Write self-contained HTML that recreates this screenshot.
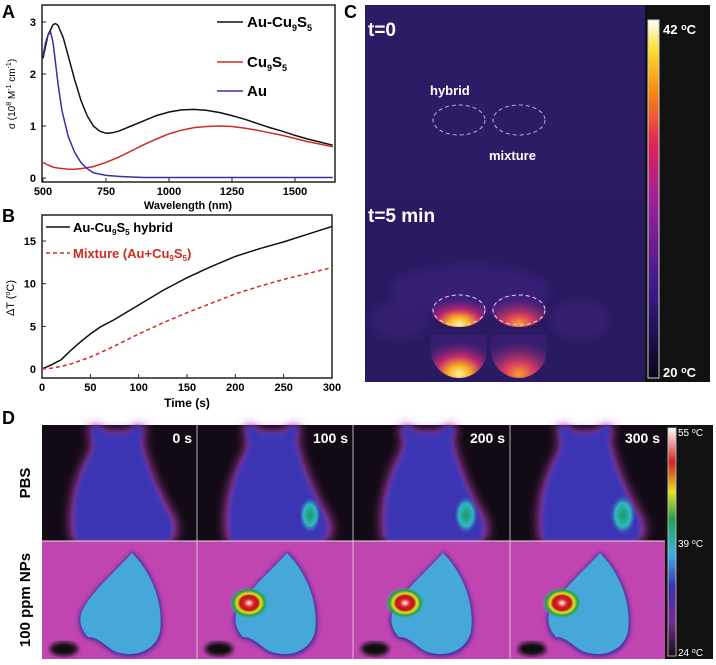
<!DOCTYPE html>
<html><head><meta charset="utf-8"><style>
html,body{margin:0;padding:0;background:#fff;}
svg{display:block;font-family:"Liberation Sans",Arial,sans-serif;}
</style></head><body>
<svg id="fig" width="716" height="665" viewBox="0 0 716 665">
<defs>
  <linearGradient id="cbar1" x1="0" y1="1" x2="0" y2="0">
    <stop offset="0" stop-color="#0a0418"/><stop offset="0.25" stop-color="#3a1a8a"/>
    <stop offset="0.5" stop-color="#a0209a"/><stop offset="0.65" stop-color="#e0205a"/>
    <stop offset="0.8" stop-color="#f88a10"/><stop offset="0.92" stop-color="#fde030"/><stop offset="1" stop-color="#ffffff"/>
  </linearGradient>
  <linearGradient id="cbar2" x1="0" y1="1" x2="0" y2="0">
    <stop offset="0" stop-color="#101010"/><stop offset="0.15" stop-color="#7a2a90"/>
    <stop offset="0.3" stop-color="#3a30b0"/><stop offset="0.45" stop-color="#40b0e0"/>
    <stop offset="0.6" stop-color="#20a050"/><stop offset="0.72" stop-color="#e8e020"/>
    <stop offset="0.85" stop-color="#d02020"/><stop offset="1" stop-color="#ffffff"/>
  </linearGradient>
  <radialGradient id="well" cx="0.5" cy="0.9" r="0.75">
    <stop offset="0" stop-color="#fff4a0"/><stop offset="0.25" stop-color="#fbb020"/>
    <stop offset="0.55" stop-color="#c02870"/><stop offset="1" stop-color="#4a2088" stop-opacity="0.4"/>
  </radialGradient>
  <radialGradient id="well2" cx="0.5" cy="0.9" r="0.75">
    <stop offset="0" stop-color="#f8a030"/><stop offset="0.35" stop-color="#d83a60"/>
    <stop offset="1" stop-color="#4a2088" stop-opacity="0.4"/>
  </radialGradient>
  <radialGradient id="hot" cx="0.5" cy="0.5" r="0.5">
    <stop offset="0" stop-color="#ffffff"/><stop offset="0.25" stop-color="#e02020"/>
    <stop offset="0.45" stop-color="#b01818"/><stop offset="0.6" stop-color="#f0e020"/>
    <stop offset="0.78" stop-color="#20a040"/><stop offset="1" stop-color="#40b0d8" stop-opacity="0"/>
  </radialGradient>
  <radialGradient id="green" cx="0.5" cy="0.5" r="0.5">
    <stop offset="0" stop-color="#1a9a6a"/><stop offset="0.6" stop-color="#30b8c0"/><stop offset="1" stop-color="#3a50c0" stop-opacity="0"/>
  </radialGradient>
  <filter id="blur2"><feGaussianBlur stdDeviation="2"/></filter>
  <filter id="blur4"><feGaussianBlur stdDeviation="5"/></filter>
  <clipPath id="clipA"><rect x="42" y="5" width="293" height="177"/></clipPath>
  <clipPath id="clipB"><rect x="42" y="215" width="290" height="163"/></clipPath>
</defs>
<g id="chartA">
  <text transform="translate(15,94) rotate(-90)" text-anchor="middle" font-size="10">σ (10<tspan font-size="7" dy="-4">8</tspan><tspan dy="4"> M</tspan><tspan font-size="7" dy="-4">-1</tspan><tspan dy="4"> cm</tspan><tspan font-size="7" dy="-4">-1</tspan><tspan dy="4">)</tspan></text>
  <g><line x1="217" x2="243" y1="22" y2="22" stroke="#111" stroke-width="1.5"/><text x="247" y="27" font-size="15" font-weight="bold">Au-Cu<tspan font-size="9" dy="4">9</tspan><tspan dy="-4">S</tspan><tspan font-size="9" dy="4">5</tspan></text></g>
  <g><line x1="217" x2="243" y1="62" y2="62" stroke="#d02a20" stroke-width="1.5"/><text x="247" y="67" font-size="15" font-weight="bold">Cu<tspan font-size="9" dy="4">9</tspan><tspan dy="-4">S</tspan><tspan font-size="9" dy="4">5</tspan></text></g>
  <g><line x1="217" x2="243" y1="91" y2="91" stroke="#3a30a0" stroke-width="1.5"/><text x="247" y="96" font-size="15" font-weight="bold">Au</text></g>
</g>
<g id="chartB">
  <text transform="translate(14,298) rotate(-90)" text-anchor="middle" font-size="11">ΔT (<tspan font-size="7" dy="-4">o</tspan><tspan dy="4">C)</tspan></text>
  <g><line x1="46" x2="70" y1="227" y2="227" stroke="#111" stroke-width="1.5"/><text x="73" y="232" font-size="13" font-weight="bold">Au-Cu<tspan font-size="8" dy="3">9</tspan><tspan dy="-3">S</tspan><tspan font-size="8" dy="3">5</tspan><tspan dy="-3"> hybrid</tspan></text></g>
  <g><line x1="46" x2="70" y1="253" y2="253" stroke="#d02a20" stroke-width="1.5" stroke-dasharray="4,3"/><text x="73" y="258" font-size="13" font-weight="bold" fill="#d02a20">Mixture (Au+Cu<tspan font-size="8" dy="3">9</tspan><tspan dy="-3">S</tspan><tspan font-size="8" dy="3">5</tspan><tspan dy="-3">)</tspan></text></g>
</g>
<g id="panelC">
  <rect x="365" y="5" width="282" height="196" fill="#2c1c66"/>
  <rect x="365" y="201" width="282" height="181" fill="#2a1a62"/>
  <ellipse cx="470" cy="290" rx="80" ry="25" fill="#3e2480" opacity="0.6" filter="url(#blur4)"/>
  <ellipse cx="400" cy="320" rx="30" ry="20" fill="#3a2278" opacity="0.6" filter="url(#blur4)"/>
  <ellipse cx="580" cy="320" rx="30" ry="20" fill="#3a2278" opacity="0.6" filter="url(#blur4)"/>
  <path d="M431,350 A28,28 0 0 0 487,350 L487,335 L431,335 Z" fill="url(#well)"/>
  <path d="M491,350 A28,28 0 0 0 547,350 L547,335 L491,335 Z" fill="url(#well2)"/>
  <ellipse cx="459" cy="310" rx="27" ry="17" fill="url(#well)"/>
  <ellipse cx="519" cy="310" rx="27" ry="17" fill="url(#well2)"/>
  <ellipse cx="459" cy="310" rx="26" ry="15" fill="none" stroke="#e0d8f0" stroke-dasharray="4,3"/>
  <ellipse cx="519" cy="310" rx="26" ry="15" fill="none" stroke="#e0d8f0" stroke-dasharray="4,3"/>
  <ellipse cx="459" cy="120" rx="26" ry="15" fill="none" stroke="#b8b0e0" stroke-dasharray="4,3"/>
  <ellipse cx="519" cy="120" rx="26" ry="15" fill="none" stroke="#b8b0e0" stroke-dasharray="4,3"/>
  <text x="368" y="36" font-size="19" font-weight="bold" fill="#fff">t=0</text>
  <text x="430" y="95" font-size="13" font-weight="bold" fill="#fff">hybrid</text>
  <text x="489" y="160" font-size="13" font-weight="bold" fill="#fff">mixture</text>
  <text x="368" y="222" font-size="19" font-weight="bold" fill="#fff">t=5 min</text>
  <rect x="645" y="5" width="65" height="377" fill="#111"/>
  <rect x="648" y="20" width="11" height="358" fill="url(#cbar1)" stroke="#ccc"/>
  <text x="663" y="34" font-size="13" font-weight="bold" fill="#fff">42 <tspan font-size="9" dy="-4">o</tspan><tspan dy="4">C</tspan></text>
  <text x="663" y="377" font-size="13" font-weight="bold" fill="#fff">20 <tspan font-size="9" dy="-4">o</tspan><tspan dy="4">C</tspan></text>
</g>
<text x="344" y="18" font-size="18" font-weight="bold">C</text>
<text x="2" y="18" font-size="18" font-weight="bold">A</text>
<text x="2" y="222" font-size="18" font-weight="bold">B</text>
<text x="2" y="424" font-size="18" font-weight="bold">D</text>
<g id="panelD">
  <rect x="665" y="425" width="48" height="234" fill="#111"/>
  <rect x="668" y="428" width="8" height="228" fill="url(#cbar2)" stroke="#ccc" stroke-width="0.8"/>
  <text x="678" y="436" font-size="10" fill="#fff">55 <tspan font-size="7" dy="-3">o</tspan><tspan dy="3">C</tspan></text>
  <text x="678" y="547" font-size="10" fill="#fff">39 <tspan font-size="7" dy="-3">o</tspan><tspan dy="3">C</tspan></text>
  <text x="678" y="656" font-size="10" fill="#fff">24 <tspan font-size="7" dy="-3">o</tspan><tspan dy="3">C</tspan></text>
  <text transform="translate(30,483) rotate(-90)" text-anchor="middle" font-size="15" font-weight="bold">PBS</text>
  <text transform="translate(30,600) rotate(-90)" text-anchor="middle" font-size="15" font-weight="bold">100 ppm NPs</text>
</g>
<script>
const NS='http://www.w3.org/2000/svg';
function el(tag,attrs,parent){const e=document.createElementNS(NS,tag);for(const k in attrs)e.setAttribute(k,attrs[k]);parent.appendChild(e);return e;}
// ---- Panel A data
const waveA=[500,520,540,550,560,580,600,625,650,675,700,725,750,775,800,850,900,950,1000,1050,1100,1150,1200,1250,1300,1350,1400,1450,1500,1550,1600,1650];
const hybridA=[2.3,2.75,2.95,2.97,2.93,2.7,2.35,1.9,1.5,1.2,1.0,0.9,0.86,0.87,0.9,1.0,1.1,1.2,1.27,1.31,1.32,1.3,1.26,1.2,1.13,1.05,0.97,0.9,0.82,0.75,0.69,0.63];
const cuA=[0.3,0.25,0.21,0.2,0.19,0.18,0.17,0.17,0.18,0.2,0.22,0.26,0.3,0.35,0.4,0.52,0.64,0.75,0.85,0.92,0.97,0.99,1.0,0.99,0.96,0.92,0.87,0.82,0.76,0.7,0.65,0.6];
const waveAu=[500,510,520,530,540,550,560,575,600,625,650,675,700,750,800,850,900,1000,1200,1400,1650];
const auA=[2.35,2.6,2.75,2.8,2.6,2.2,1.8,1.3,0.8,0.5,0.3,0.18,0.1,0.05,0.03,0.02,0.01,0.01,0.01,0.01,0.01];
const xTicksA=[500,750,1000,1250,1500];
const yTicksA=[0,1,2,3];
// ---- Panel B data
const timeB=[0,10,20,30,40,50,60,75,100,125,150,175,200,225,250,275,300];
const hybridB=[0,0.5,1.1,2.2,3.2,4.1,4.9,5.8,7.5,9.2,10.7,12,13.2,14.1,14.9,15.8,16.7];
const mixB=[0,0.1,0.3,0.6,1,1.4,1.9,2.7,4.1,5.4,6.6,7.7,8.8,9.7,10.5,11.2,11.9];
const xTicksB=[0,50,100,150,200,250,300];
const yTicksB=[0,5,10,15];
// ---- Panel D labels
const timesD=['0 s','100 s','200 s','300 s'];

const xA=v=>43+(v-500)*0.252, yA=v=>178-v*52;
const xB=v=>42+(v)*290/300, yB=v=>369-v*8.53;
function pathOf(xs,ys,fx,fy){return xs.map((x,i)=>(i?'L':'M')+fx(x).toFixed(1)+','+fy(ys[i]).toFixed(1)).join(' ');}

// Panel A
const A=document.getElementById('chartA');
el('rect',{x:42,y:5,width:293,height:177,fill:'none',stroke:'#222','stroke-width':1.5},A);
xTicksA.forEach(t=>{el('line',{x1:xA(t),x2:xA(t),y1:182,y2:178,stroke:'#222'},A);
 const tx=el('text',{x:xA(t),y:195,'text-anchor':'middle','font-size':11,'font-weight':'bold'},A);tx.textContent=t;
 
 });
yTicksA.forEach(t=>{el('line',{x1:42,x2:46,y1:yA(t),y2:yA(t),stroke:'#222'},A);
 const tx=el('text',{x:36,y:yA(t)+4,'text-anchor':'end','font-size':11,'font-weight':'bold'},A);tx.textContent=t;
 
 });
let t=el('text',{x:188,y:209,'text-anchor':'middle','font-size':11,'font-weight':'bold'},A);t.textContent='Wavelength (nm)';


const gA=el('g',{'clip-path':'url(#clipA)'},A);
[[waveA,hybridA,'#111','line-au-cu9s5'],[waveA,cuA,'#d02a20','line-cu9s5'],[waveAu,auA,'#3a30a0','line-au']].forEach(([xs,ys,c,n])=>{
 const p=el('path',{d:pathOf(xs,ys,xA,yA),fill:'none',stroke:c,'stroke-width':1.5},gA);
 
 });

// Panel B
const B=document.getElementById('chartB');
el('rect',{x:42,y:215,width:290,height:163,fill:'none',stroke:'#222','stroke-width':1.5},B);
xTicksB.forEach(v=>{el('line',{x1:xB(v),x2:xB(v),y1:378,y2:374,stroke:'#222'},B);
 const tx=el('text',{x:xB(v),y:391,'text-anchor':'middle','font-size':11,'font-weight':'bold'},B);tx.textContent=v;
 
 });
yTicksB.forEach(v=>{el('line',{x1:42,x2:46,y1:yB(v),y2:yB(v),stroke:'#222'},B);
 const tx=el('text',{x:36,y:yB(v)+4,'text-anchor':'end','font-size':11,'font-weight':'bold'},B);tx.textContent=v;
 
 });
t=el('text',{x:187,y:407,'text-anchor':'middle','font-size':12,'font-weight':'bold'},B);t.textContent='Time (s)';


const gB=el('g',{'clip-path':'url(#clipB)'},B);
let p=el('path',{d:pathOf(timeB,hybridB,xB,yB),fill:'none',stroke:'#111','stroke-width':1.5},gB);


p=el('path',{d:pathOf(timeB,mixB,xB,yB),fill:'none',stroke:'#d02a20','stroke-width':1.5,'stroke-dasharray':'4,3'},gB);



// Panel D images
const D=document.getElementById('panelD');
const xs=[42,197,353,510], w=[155,156,157,155];
timesD.forEach((lab,i)=>{
 const x0=xs[i], W=w[i];
 let gp=el('g',{transform:'translate('+x0+',425)'},D);
 
 
 el('rect',{x:0,y:0,width:W,height:116,fill:'#120a14'},gp);
 const mouse='M52,14 C42,2 56,-4 64,8 L86,8 C94,-4 108,2 98,14 C102,35 112,62 124,84 C134,100 132,112 124,116 L34,116 C28,92 34,55 50,28 Z';
 el('path',{d:mouse,fill:'#b840b8',filter:'url(#blur4)',transform:'translate(-6,-2) scale(1.08,1.03)'},gp);
 el('path',{d:mouse,fill:'#3a36b4',filter:'url(#blur2)'},gp);
 if(i>0){el('ellipse',{cx:113,cy:90,rx:10+i,ry:17+i,fill:'url(#green)'},gp);}
 const tt=el('text',{x:W-5,y:18,'text-anchor':'end','font-size':14,'font-weight':'bold',fill:'#fff'},gp);tt.textContent=lab;
 
 
 let gn=el('g',{transform:'translate('+x0+',541)'},D);
 
 
 el('rect',{x:0,y:0,width:W,height:118,fill:'#c045b0'},gn);
 const body='M90,12 C108,30 122,60 118,90 C114,110 92,118 72,110 C62,104 56,96 46,96 C40,90 36,80 40,70 C50,50 72,32 90,12 Z';
 el('path',{d:body,fill:'#3a2aa0',filter:'url(#blur2)',transform:'translate(-3,-2) scale(1.04)'},gn);
 el('path',{d:body,fill:'#45a8d8'},gn);
 el('ellipse',{cx:22,cy:108,rx:14,ry:7,fill:'#111',filter:'url(#blur2)'},gn);
 if(i>0){el('ellipse',{cx:52,cy:62,rx:20,ry:16,fill:'url(#hot)'},gn);}
});
el('line',{x1:42,x2:665,y1:541,y2:541,stroke:'#ddd','stroke-width':1},D);
xs.slice(1).forEach(x=>el('line',{x1:x,x2:x,y1:425,y2:659,stroke:'#ddd','stroke-width':0.8},D));
</script>
</svg>
</body></html>
